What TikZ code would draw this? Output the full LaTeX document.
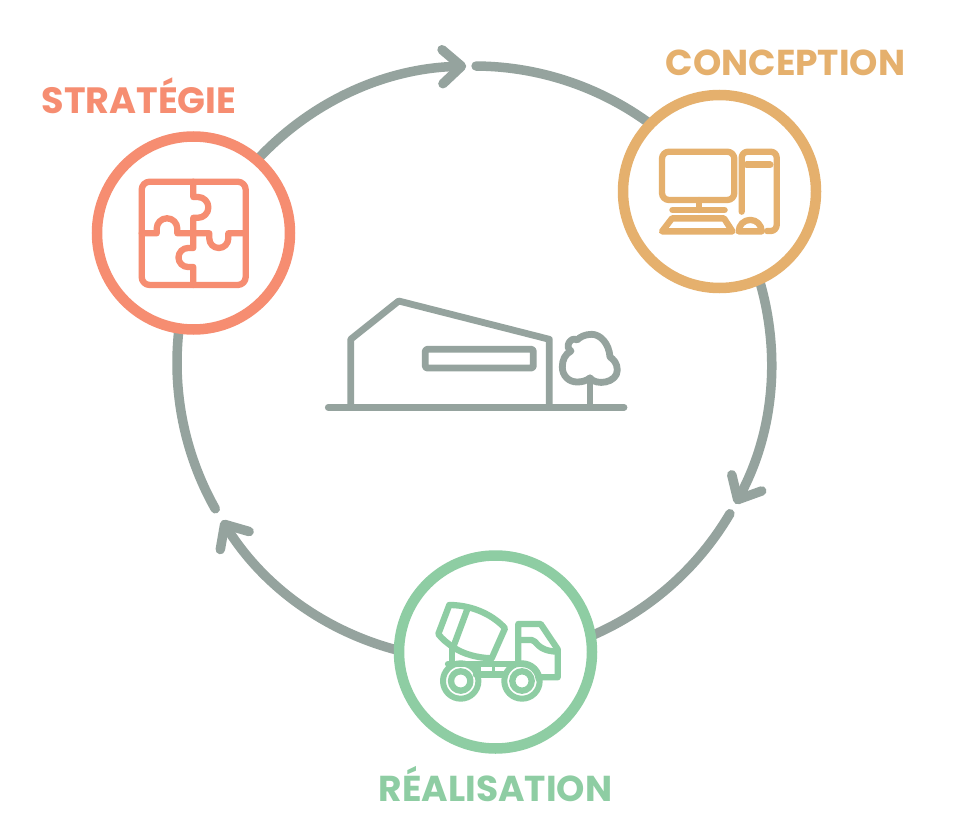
\documentclass[tikz,border=0pt]{standalone}
\usepackage{fontspec}
\setmainfont{Poppins}
\usetikzlibrary{arrows.meta}
\definecolor{ringgrey}{HTML}{95A39E}
\definecolor{salmon}{HTML}{F68D71}
\definecolor{sand}{HTML}{E5B06D}
\definecolor{mint}{HTML}{8ECDA3}
\tikzset{
  ring/.style={draw=ringgrey,line width=9.5pt,line cap=round},
  ringarrow/.style={ring,-{Straight Barb[round,length=19pt,width=34pt]}},
  stage/.style={circle,fill=white,draw=#1,line width=10.5pt,minimum size=193pt,inner sep=0pt},
  icon/.style={draw=#1,line width=6.3pt,line cap=round,line join=round},
  title/.style={text=#1,font=\fontsize{36}{36}\selectfont\bfseries,inner sep=0pt,anchor=base},
}
\begin{document}
\begin{tikzpicture}[x=1pt,y=-1pt]
\useasboundingbox (0,0) rectangle (958,834);
\fill[white] (0,0) rectangle (958,834);
\coordinate (hub) at (474,363);
% ring segments
\path (hub) ++(205:297) coordinate (gs1)
      (hub) ++(-89.6:297) coordinate (gs2)
      (hub) ++(-35:297) coordinate (gs3)
      (hub) ++(30.5:297) coordinate (gs4)
      (hub) ++(86:297) coordinate (gs5)
      (hub) ++(150.6:297) coordinate (gs6);
\draw[ringarrow] (gs1) arc[start angle=205,end angle=268.5,radius=297];
\draw[ring] (gs2) arc[start angle=-89.6,end angle=-35,radius=297];
\draw[ringarrow] (gs3) arc[start angle=-35,end angle=28.3,radius=297];
\draw[ring] (gs4) arc[start angle=30.5,end angle=86,radius=297];
\draw[ringarrow] (gs5) arc[start angle=86,end angle=148,radius=297];
\draw[ring] (gs6) arc[start angle=150.6,end angle=205,radius=297];
% stages
\node[stage=salmon] (strategie) at (193.5,233) {};
\node[stage=sand] (conception) at (719.5,191.5) {};
\node[stage=mint] (realisation) at (495.5,652) {};
% titles
\node[title=salmon,font=\fontsize{36.6}{36}\selectfont\bfseries] (tstrategie) at (139,114) {STRATÉGIE};
\node[title=sand] (tconception) at (785.5,76) {CONCEPTION};
\node[title=mint] (trealisation) at (495.5,801.5) {RÉALISATION};
% puzzle
\begin{scope}[icon=salmon]
\draw[rounded corners=8pt] (141.7,181.7) rectangle (245.7,285);
\draw (193.3,181.7) -- (193.3,197) -- (198,197) arc[start angle=-90,end angle=90,radius=10.4] -- (193.3,217.8) -- (193.3,233.3);
\draw (193.3,233.3) -- (193.3,248) -- (188,248) arc[start angle=-90,end angle=-270,radius=9.5] -- (193.3,267) -- (193.3,285);
\draw (141.7,233.3) -- (156.7,233.3) -- (156.7,228.6) arc[start angle=180,end angle=360,radius=10.3] -- (177.3,233.3) -- (193.3,233.3);
\draw (193.3,233.3) -- (209.3,233.3) -- (209.3,238.5) arc[start angle=180,end angle=0,radius=9.5] -- (228.3,233.3) -- (245.7,233.3);
\end{scope}
% computer
\begin{scope}[icon=sand]
\draw[rounded corners=7pt] (662,151.7) rectangle (734.3,200);
\draw (699,200) -- (699,210);
\draw[line width=6.5pt] (672.5,210) -- (724.5,210);
\draw (672,218.4) -- (724,218.4) -- (732.5,231.4) -- (662,231.4) -- cycle;
\draw (738.7,231.4) arc[start angle=180,end angle=360,radius=11.5] -- cycle;
\draw[rounded corners=6pt] (741.7,211.7) -- (741.7,151.7) -- (776.7,151.7) -- (776.7,231) -- (767,231);
\draw[line width=7pt] (746.7,165) -- (770,165);
\end{scope}
% truck
\begin{scope}[icon=mint]
\draw (449.3,605) .. controls (475,605) and (495,617) .. (505,628.3) -- (491.7,658.3) .. controls (478,658) and (463,654) .. (453.3,647.3) .. controls (447,643) and (442,639) .. (438.3,634) -- cycle;
\draw (467.3,609.3) -- (454,645);
\draw (451.7,647) -- (451.7,664);
\draw (448,664) -- (521.7,664);
\draw (476,674.5) -- (503,674.5);
\draw[line width=3pt] (493,664) -- (493,674);
\draw (478,664) -- (478,674);
\draw (518.3,664) -- (518.3,624) -- (540.7,624) -- (557.7,649.3) -- (557.7,677.3) -- (538.3,677.3);
\draw (518.3,640) -- (531.7,640) .. controls (537,640) and (536,651) .. (557.7,651.7);
\draw (522,664) arc[start angle=-90,end angle=-5,radius=17];
\foreach \cx/\nm in {460.7/a,522/b}{
  \draw[line width=6pt] (\cx,681) circle[radius=17.7];
  \draw[line width=6.3pt] (\cx,681) circle[radius=9.7];
}
\end{scope}
% building
\begin{scope}[icon=ringgrey,line width=6.8pt]
\draw (328.3,407.3) -- (624,407.3);
\draw (350.7,407.3) -- (350.7,339.3) -- (398.7,301) -- (549.3,339.3) -- (549.3,407.3);
\draw[rounded corners=1.5pt] (425.3,349.3) rectangle (533.3,368);
\draw (590,407.3) -- (590,378);
\draw (590,378) .. controls (596,386) and (617.3,383) .. (617.3,370) .. controls (617.3,363) and (613,359) .. (610,357) .. controls (609,343) and (600,334.3) .. (591.7,334.3) .. controls (585,334.3) and (580,337) .. (577,340) .. controls (571,336) and (564,347) .. (571,351) .. controls (565,354) and (562.3,360) .. (562.3,367) .. controls (562.3,376) and (569,382) .. (577,382) .. controls (582,382) and (586,381) .. (590,378) -- cycle;
\end{scope}
\end{tikzpicture}
\end{document}
